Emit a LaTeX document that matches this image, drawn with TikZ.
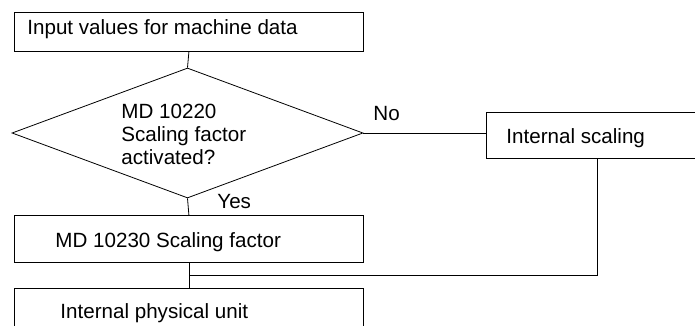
\documentclass[tikz,border=0pt]{standalone}
\usepackage{fontspec}
\setmainfont{Liberation Sans}
\usetikzlibrary{shapes.geometric,calc}
\begin{document}
\begin{tikzpicture}[x=1pt,y=-1pt,line width=0.8pt,
  box/.style={draw, rectangle, inner sep=0pt, anchor=north west},
  lbl/.style={anchor=base west, inner sep=0pt, font=\fontsize{20.6}{24}\selectfont}]
\useasboundingbox (0,0) rectangle (695,326);
\clip (0,0) rectangle (695,326);
% boxes
\node[box, minimum width=349pt, minimum height=39pt] (top) at (14,12) {};
\node[draw, shape=diamond, inner sep=0pt, minimum width=351pt, minimum height=130pt] (dia) at (187.5,133) {};
\node[box, minimum width=222pt, minimum height=46pt] (is) at (486,112) {};
\node[box, minimum width=349pt, minimum height=47pt] (md) at (14,215) {};
\node[box, minimum width=349pt, minimum height=50pt] (ipu) at (14,288) {};
% texts
\node[lbl] (ttop) at (27,35) {Input values for machine data};
\node[lbl] (td1) at (121,118) {MD 10220};
\node[lbl] (td2) at (121,141) {Scaling factor};
\node[lbl] (td3) at (121,164) {activated?};
\node[lbl] (tno) at (373,121) {No};
\node[lbl] (tyes) at (217,208) {Yes};
\node[lbl] (tis) at (506,143) {Internal scaling};
\node[lbl] (tmd) at (55,247) {MD 10230 Scaling factor};
\node[lbl] (tipu) at (60,318) {Internal physical unit};
% connectors
\coordinate (j) at ($(md.south)!0.5!(ipu.north)$);
\draw (top.south) -- (dia.north);
\draw (dia.east) -- (dia.east -| is.west);
\draw (dia.south) -- (md.north);
\draw (md.south) -- (ipu.north);
\draw (is.south) |- (j);
\end{tikzpicture}
\end{document}
